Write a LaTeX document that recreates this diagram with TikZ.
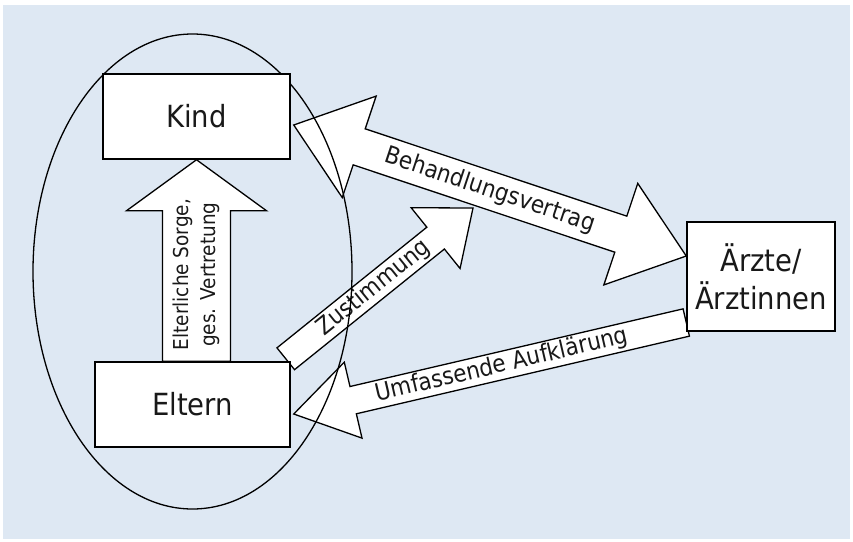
\documentclass[tikz,border=0pt]{standalone}
\usepackage{fontspec}
\setmainfont{DejaVu Sans}[FakeStretch=0.9]
\usetikzlibrary{calc}
\definecolor{panel}{RGB}{222,232,243}
\definecolor{ink}{RGB}{25,25,25}
\pgfdeclarelayer{bg}
\pgfdeclarelayer{arrows}
\pgfsetlayers{bg,arrows,main}

% block arrow from #1 (tail) to #2 (tip): shaft half width #3, head half width #4, head length #5
\newcommand\singlearrow[5]{%
  \coordinate (ba-j) at ($(#2)!#5!(#1)$);
  \filldraw[arrowbody] ($(#1)!#3!90:(#2)$) -- ($(ba-j)!#3!-90:(#1)$) -- ($(ba-j)!#4!-90:(#1)$)
    -- (#2) -- ($(ba-j)!#4!90:(#1)$) -- ($(ba-j)!#3!90:(#1)$) -- ($(#1)!#3!-90:(#2)$) -- cycle;
}
% block arrow with heads at both ends #1 and #2
\newcommand\doublearrow[5]{%
  \coordinate (da-a) at ($(#1)!#5!(#2)$);
  \coordinate (da-b) at ($(#2)!#5!(#1)$);
  \filldraw[arrowbody] (#1) -- ($(da-a)!#4!90:(#2)$) -- ($(da-a)!#3!90:(#2)$)
    -- ($(da-b)!#3!-90:(#1)$) -- ($(da-b)!#4!-90:(#1)$) -- (#2)
    -- ($(da-b)!#4!90:(#1)$) -- ($(da-b)!#3!90:(#1)$)
    -- ($(da-a)!#3!-90:(#2)$) -- ($(da-a)!#4!-90:(#2)$) -- cycle;
}

\tikzset{
  box/.style={draw=black, line width=1.5pt, fill=white, inner sep=0pt, text=ink,
    font=\fontsize{30.5}{38}\selectfont, align=center},
  arrowbody/.style={fill=white, draw=black, line width=1.3pt, line join=miter},
  lbl/.style={inner sep=0pt, text=ink, font=\fontsize{24}{28}\selectfont},
  vlbl/.style={inner sep=0pt, text=ink, font=\fontsize{20.5}{27}\selectfont, align=center},
}

\begin{document}
\begin{tikzpicture}[x=1pt, y=-1pt]
\useasboundingbox (0,0) rectangle (853,541);
\begin{pgfonlayer}{bg}
  \fill[panel] (3,5) rectangle (850,539);
\end{pgfonlayer}

% family circle and participants
\draw[line width=1.3pt] (192.5,271.5) ellipse [x radius=159.5pt, y radius=237.5pt];
\node[box, minimum width=187pt, minimum height=85pt] (kind) at (196.5,116.5) {Kind};
\node[box, minimum width=195pt, minimum height=85pt] (eltern) at (192.5,404.5) {Eltern};
\node[box, minimum width=148pt, minimum height=109pt] (arzt) at (761,276.5) {Ärzte/\\Ärztinnen};

% arrow end points
\coordinate (vt-tail) at (kind.south |- eltern.north);
\coordinate (bv-a) at ($(kind.east)+(3,8.5)$);
\coordinate (bv-b) at ($(arzt.west)+(0,-20.5)$);
\coordinate (zu-tail) at ($(eltern.north east)+(-5,-2.5)$);
\coordinate (zu-tip) at (473,208);
\coordinate (uf-tail) at ($(arzt.west)+(0,46)$);
\coordinate (uf-tip) at ($(eltern.east)+(3,9.5)$);

\begin{pgfonlayer}{arrows}
  \singlearrow{vt-tail}{kind.south}{34pt}{70pt}{51pt}
  \path (vt-tail) -- (kind.south) node[pos=0.43, sloped, vlbl] {Elterliche Sorge,\\ges. Vertretung};

  \doublearrow{bv-a}{bv-b}{19pt}{53.5pt}{69pt}
  \path (bv-a) -- (bv-b) node[pos=0.5, sloped, lbl] {Behandlungsvertrag};

  \singlearrow{zu-tail}{zu-tip}{14pt}{39pt}{48pt}
  \path (zu-tail) -- (zu-tip) node[pos=0.47, sloped, lbl] {Zustimmung};

  \singlearrow{uf-tail}{uf-tip}{14pt}{39pt}{61pt}
  \path (uf-tail) -- (uf-tip) node[pos=0.47, sloped, lbl] {Umfassende Aufklärung};
\end{pgfonlayer}
\end{tikzpicture}
\end{document}
